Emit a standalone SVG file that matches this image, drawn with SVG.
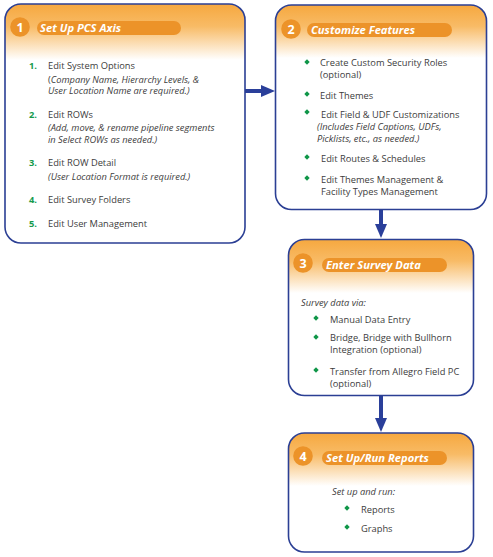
<svg xmlns="http://www.w3.org/2000/svg" xmlns:xlink="http://www.w3.org/1999/xlink" width="493" height="557" viewBox="0 0 493 557">
<style>
.box{fill:none;stroke:#2b3f94;stroke-width:1.6}
.bg{fill:#ffffff}
.hdr{fill:url(#hg)}
.pill{fill:#ec9329}
.circ{fill:#ec9329}
.num{font-family:"Open Sans","Noto Sans",sans-serif;font-weight:bold;font-size:12.5px;fill:#fff;text-anchor:middle}
.ttl{font-family:"Open Sans","Noto Sans",sans-serif;font-weight:bold;font-style:italic;font-size:11.2px;fill:#fff}
.t{font-family:"Open Sans","Noto Sans",sans-serif;font-size:9.3px;fill:#3c3c3c}
.i{font-family:"Open Sans","Noto Sans",sans-serif;font-size:9.3px;font-style:italic;fill:#3c3c3c}
.n{font-family:"Open Sans","Noto Sans",sans-serif;font-size:9.3px;font-weight:bold;fill:#159a4c}
.bul{fill:#0f9648}
.conn{stroke:#2a3f9a;stroke-width:4;fill:none;marker-end:url(#ah)}
</style>
<defs>
<linearGradient id="hg" x1="0" y1="0" x2="0" y2="1">
<stop offset="0" stop-color="#f6a83f"/>
<stop offset="0.4" stop-color="#f8bb66"/>
<stop offset="1" stop-color="#ffffff"/>
</linearGradient>
<marker id="ah" markerUnits="userSpaceOnUse" markerWidth="15" markerHeight="12" refX="0" refY="6" orient="auto">
<path d="M0,0 L14,6 L0,12 Z" fill="#2a3f9a"/>
</marker>
<path id="dia" d="M0,-2.7 L2.7,0 L0,2.7 L-2.7,0 Z"/>
</defs>

<g id="connectors">
<line class="conn" x1="245" y1="91" x2="261" y2="91"/>
<line class="conn" x1="381" y1="210" x2="381" y2="224"/>
<line class="conn" x1="381" y1="396" x2="381" y2="418"/>
</g>

<g id="node1">
<rect class="bg" x="5" y="4" width="240" height="239" rx="16"/>
<path class="hdr" d="M5,60 V20 A16,16 0 0 1 21,4 H229 A16,16 0 0 1 245,20 V60 Z"/>
<rect class="box" x="5" y="4" width="240" height="239" rx="16"/>
<circle class="circ" cx="20" cy="27" r="9.8"/>
<text class="num" x="20" y="31.5">1</text>
<rect class="pill" x="37" y="21" width="144" height="14" rx="7"/>
<text class="ttl" x="40" y="32">Set Up PCS Axis</text>
<text class="n" x="29" y="68.5">1.</text>
<text class="t" x="48" y="68.5">Edit System Options</text>
<text class="i" x="48" y="82.5"><tspan font-style="normal">(</tspan>Company Name, Hierarchy Levels, &amp;</text>
<text class="i" x="48" y="94">User Location Name are required.)</text>
<text class="n" x="29" y="118">2.</text>
<text class="t" x="48" y="118">Edit ROWs</text>
<text class="i" x="48" y="131">(Add, move, &amp; rename pipeline segments</text>
<text class="i" x="48" y="142.5">in Select ROWs as needed.)</text>
<text class="n" x="29" y="166">3.</text>
<text class="t" x="48" y="166">Edit ROW Detail</text>
<text class="i" x="48" y="180">(User Location Format is required.)</text>
<text class="n" x="29" y="203">4.</text>
<text class="t" x="48" y="203">Edit Survey Folders</text>
<text class="n" x="29" y="226.5">5.</text>
<text class="t" x="48" y="226.5">Edit User Management</text>
</g>

<g id="node2">
<rect class="bg" x="275.5" y="5" width="211" height="204.5" rx="16"/>
<path class="hdr" d="M275.5,58 V21 A16,16 0 0 1 291.5,5 H470.5 A16,16 0 0 1 486.5,21 V58 Z"/>
<rect class="box" x="275.5" y="5" width="211" height="204.5" rx="16"/>
<circle class="circ" cx="291" cy="29" r="9.8"/>
<text class="num" x="291" y="33.5">2</text>
<rect class="pill" x="307" y="23" width="145" height="14" rx="7"/>
<text class="ttl" x="311" y="34">Customize Features</text>
<use xlink:href="#dia" class="bul" x="307" y="62"/>
<text class="t" x="320" y="66.2">Create Custom Security Roles</text>
<text class="t" x="320" y="77.8">(optional)</text>
<use xlink:href="#dia" class="bul" x="307" y="94"/>
<text class="t" x="320" y="98.5">Edit Themes</text>
<use xlink:href="#dia" class="bul" x="307" y="112"/>
<text class="t" x="321" y="117.5">Edit Field &amp; UDF Customizations</text>
<text class="i" x="317" y="130.2">(Includes Field Captions, UDFs,</text>
<text class="i" x="317" y="141.8">Picklists, etc., as needed.)</text>
<use xlink:href="#dia" class="bul" x="307" y="157"/>
<text class="t" x="321" y="161.5">Edit Routes &amp; Schedules</text>
<use xlink:href="#dia" class="bul" x="307" y="178"/>
<text class="t" x="321" y="183">Edit Themes Management &amp;</text>
<text class="t" x="321" y="194.6">Facility Types Management</text>
</g>

<g id="node3">
<rect class="bg" x="288.5" y="239.5" width="185" height="156" rx="16"/>
<path class="hdr" d="M288.5,293 V255.5 A16,16 0 0 1 304.5,239.5 H457.5 A16,16 0 0 1 473.5,255.5 V293 Z"/>
<rect class="box" x="288.5" y="239.5" width="185" height="156" rx="16"/>
<circle class="circ" cx="303" cy="263" r="9.8"/>
<text class="num" x="303" y="267.5">3</text>
<rect class="pill" x="322" y="258" width="125" height="14" rx="7"/>
<text class="ttl" x="326" y="268.5">Enter Survey Data</text>
<text class="i" x="301" y="305.5">Survey data via:</text>
<use xlink:href="#dia" class="bul" x="316" y="318"/>
<text class="t" x="330" y="322.5">Manual Data Entry</text>
<use xlink:href="#dia" class="bul" x="316" y="337"/>
<text class="t" x="330" y="341.2">Bridge, Bridge with Bullhorn</text>
<text class="t" x="330" y="352.8">Integration (optional)</text>
<use xlink:href="#dia" class="bul" x="316" y="370"/>
<text class="t" x="330" y="374.5">Transfer from Allegro Field PC</text>
<text class="t" x="330" y="386.5">(optional)</text>
</g>

<g id="node4">
<rect class="bg" x="288.5" y="433" width="185" height="119" rx="16"/>
<path class="hdr" d="M288.5,486 V449 A16,16 0 0 1 304.5,433 H457.5 A16,16 0 0 1 473.5,449 V486 Z"/>
<rect class="box" x="288.5" y="433" width="185" height="119" rx="16"/>
<circle class="circ" cx="303" cy="456" r="9.8"/>
<text class="num" x="303" y="460.5">4</text>
<rect class="pill" x="322" y="451" width="125" height="14" rx="7"/>
<text class="ttl" x="326" y="461.5">Set Up/Run Reports</text>
<text class="i" x="332" y="494.5">Set up and run:</text>
<use xlink:href="#dia" class="bul" x="347" y="508"/>
<text class="t" x="361" y="512.5">Reports</text>
<use xlink:href="#dia" class="bul" x="347" y="527"/>
<text class="t" x="361" y="531.5">Graphs</text>
</g>
</svg>
